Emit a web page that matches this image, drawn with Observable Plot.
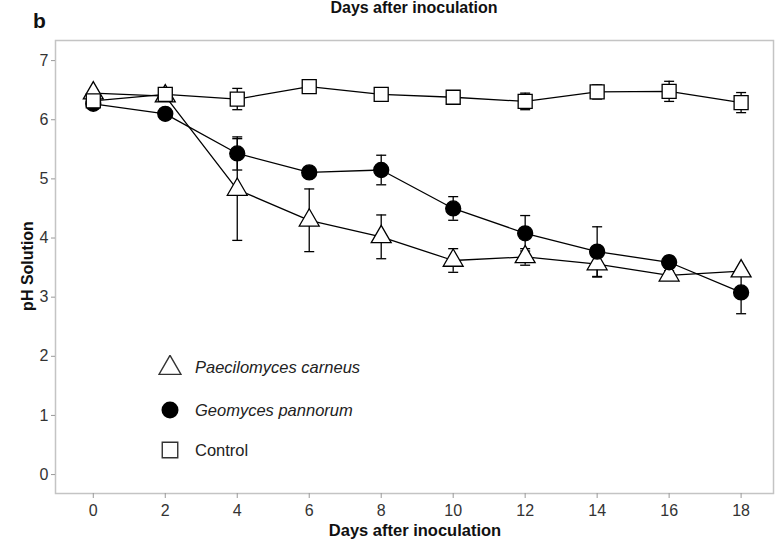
<!DOCTYPE html>
<html>
<head>
<meta charset="utf-8">
<script src="https://cdn.jsdelivr.net/npm/d3@7"></script>
<script src="https://cdn.jsdelivr.net/npm/@observablehq/plot@0.6"></script>
<style>
  body { margin: 0; background: #fff; font-family: "Liberation Sans", Arial, sans-serif; }
  #wrap { position: relative; width: 776px; height: 541px; overflow: hidden; }
  .ov { position: absolute; white-space: nowrap; color: #111; line-height: 1; }
  .ttl { font-weight: bold; font-size: 16.5px; transform: translateX(-50%); }
  #legend .row { position: absolute; left: 158px; display: flex; align-items: center; }
  #legend .row span { font-size: 16.5px; color: #222; margin-left: 13px; }
</style>
</head>
<body>
<div id="wrap">
  <div id="chart"></div>
  <div class="ov" style="left:33px; top:10px; font-weight:bold; font-size:21px;">b</div>
  <div class="ov ttl" style="left:414px; top:0px; font-size:16px;">Days after inoculation</div>
  <div class="ov ttl" style="left:415px; top:522px;">Days after inoculation</div>
  <div class="ov" style="left:27.5px; top:266px; font-weight:bold; font-size:16px; transform: translate(-50%,-50%) rotate(-90deg);">pH Solution</div>
  <div id="legend"></div>
</div>
<script>
const days = [0, 2, 4, 6, 8, 10, 12, 14, 16, 18];
const seriesNames = ["Paecilomyces carneus", "Geomyces pannorum", "Control"];
const paecMean = [6.45, 6.40, 4.82, 4.30, 4.02, 3.62, 3.68, 3.56, 3.37, 3.44];
const paecSD   = [0.05, 0.05, 0.86, 0.53, 0.37, 0.20, 0.14, 0.22, 0.08, 0.06];
const geoMean  = [6.27, 6.10, 5.43, 5.11, 5.15, 4.50, 4.08, 3.77, 3.59, 3.08];
const geoSD    = [0.05, 0.06, 0.28, 0.08, 0.25, 0.20, 0.30, 0.42, 0.10, 0.36];
const ctrlMean = [6.32, 6.43, 6.35, 6.56, 6.43, 6.38, 6.31, 6.47, 6.48, 6.29];
const ctrlSD   = [0.05, 0.05, 0.18, 0.05, 0.10, 0.05, 0.14, 0.12, 0.17, 0.17];
const xTicks = [0, 2, 4, 6, 8, 10, 12, 14, 16, 18];
const yTicks = [0, 1, 2, 3, 4, 5, 6, 7];

const symbols = ["triangle", "circle", "square"];
const fills = ["white", "black", "white"];
const radii = [7.4, 7.5, 7.9];
const means = [paecMean, geoMean, ctrlMean];
const sds = [paecSD, geoSD, ctrlSD];

const rows = [];
seriesNames.forEach((s, i) => {
  days.forEach((d, j) => {
    rows.push({series: s, idx: i, day: d, mean: means[i][j], lo: means[i][j] - sds[i][j], hi: means[i][j] + sds[i][j]});
  });
});

const capSymbol = { draw(ctx) { ctx.moveTo(-5, 0); ctx.lineTo(5, 0); } };

const marks = [
  Plot.frame({stroke: "#c4c4c4", strokeWidth: 1.5}),
  Plot.axisX({ticks: xTicks, tickSize: 5, tickPadding: 6, fontSize: 16, stroke: "#999", fill: "#333", label: null}),
  Plot.axisY({ticks: yTicks, tickSize: 4, tickPadding: 3, fontSize: 16, stroke: "#999", fill: "#333", label: null}),
  Plot.ruleX(rows, {x: "day", y1: "lo", y2: "hi", stroke: "black", strokeWidth: 1.3}),
  Plot.dot(rows, {x: "day", y: "lo", symbol: capSymbol, stroke: "black", strokeWidth: 1.3}),
  Plot.dot(rows, {x: "day", y: "hi", symbol: capSymbol, stroke: "black", strokeWidth: 1.3}),
  Plot.line(rows, {x: "day", y: "mean", z: "series", stroke: "black", strokeWidth: 1.3})
];
seriesNames.forEach((s, i) => {
  marks.push(Plot.dot(rows.filter(r => r.idx === i), {
    x: "day", y: "mean", symbol: symbols[i], r: radii[i],
    fill: fills[i], stroke: "black", strokeWidth: 1.3
  }));
});

const chart = Plot.plot({
  width: 776,
  height: 541,
  marginTop: 40,
  marginLeft: 55,
  marginRight: 3,
  marginBottom: 48,
  x: {domain: [-1.05, 18.9]},
  y: {domain: [-0.32, 7.34]},
  style: {fontFamily: "'Liberation Sans', Arial, sans-serif", background: "white"},
  marks
});
document.getElementById("chart").appendChild(chart);

// legend
const legendTops = [367, 410, 450];
const legendItalic = [true, true, false];
const leg = d3.select("#legend");
seriesNames.forEach((s, i) => {
  const row = leg.append("div").attr("class", "row").style("top", (legendTops[i] - 12) + "px").style("height", "24px");
  const svg = row.append("svg").attr("width", 24).attr("height", 24);
  const sym = {triangle: d3.symbolTriangle, circle: d3.symbolCircle, square: d3.symbolSquare}[symbols[i]];
  const size = {triangle: 210, circle: 227, square: 240}[symbols[i]];
  svg.append("path").attr("transform", "translate(12," + (symbols[i] === "triangle" ? 13 : 12) + ")")
    .attr("d", d3.symbol(sym, size)())
    .attr("fill", fills[i] === "white" ? "white" : "black")
    .attr("stroke", symbols[i] === "circle" ? "none" : "#333").attr("stroke-width", 1.4);
  row.append("span").style("font-style", legendItalic[i] ? "italic" : "normal").text(s);
});
</script>
</body>
</html>
